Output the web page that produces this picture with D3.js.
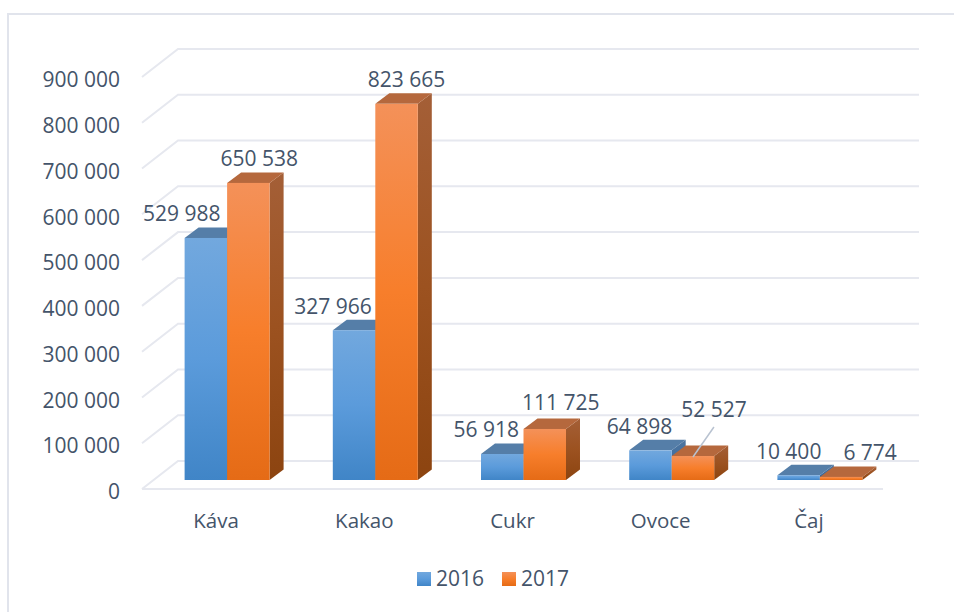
<!DOCTYPE html>
<html>
<head>
<meta charset="utf-8">
<style>
  html, body { margin: 0; background: #fff; }
  svg { display: block; }
  text { font-family: "Open Sans", sans-serif; fill: #44546a; }
  .axis .domain { display: none; }
  .axis text { font-family: "Open Sans", sans-serif; fill: #44546a; }
  .y-axis text { font-size: 21px; }
  .x-axis text { font-size: 20.5px; }
  .value { font-size: 21px; text-anchor: middle; }
  .legend text { font-size: 21px; }
</style>
</head>
<body>
<svg width="954" height="612"></svg>
<script src="https://d3js.org/d3.v7.min.js"></script>
<script>
  var categories = ["Káva", "Kakao", "Cukr", "Ovoce", "Čaj"];
  var years = ["2016", "2017"];
  var values2016 = [529988, 327966, 56918, 64898, 10400];
  var values2017 = [650538, 823665, 111725, 52527, 6774];
  var yTicks = [0, 100000, 200000, 300000, 400000, 500000, 600000, 700000, 800000, 900000];

  // hand placed data labels, moved from the top of the bar as in the original
  var nudge2016 = [[-24, 0], [-21, 0], [-16, 0], [-11, 0], [-10, 0]];
  var nudge2017 = [[11, 0], [10, 0], [16, -2], [21, -22], [29, 0]];

  var svg = d3.select("svg");
  var fmt = d3.formatLocale({ decimal: ",", thousands: " ", grouping: [3], currency: ["", ""] }).format(",d");

  var wall = { dx: 36, dy: -28 };   // chart floor depth
  var depth = { dx: 14, dy: -10.5 }; // bar depth

  var x = d3.scaleBand().domain(categories).range([142, 883]);
  var xBars = d3.scaleBand().domain(categories).range([153, 894]).paddingInner(0.4265).paddingOuter(0.2133);
  var xYear = d3.scaleBand().domain(years).range([0, xBars.bandwidth()]);
  var yFront = d3.scaleLinear().domain([0, 900000]).range([489, 77]);
  var yBar = d3.scaleLinear().domain([0, 900000]).range([480, 69]);

  // gradients
  var defs = svg.append("defs");
  function gradient(id, top, mid, bottom) {
    var g = defs.append("linearGradient").attr("id", id).attr("x1", 0).attr("y1", 0).attr("x2", 0).attr("y2", 1);
    g.append("stop").attr("offset", "0%").attr("stop-color", top);
    g.append("stop").attr("offset", "50%").attr("stop-color", mid);
    g.append("stop").attr("offset", "100%").attr("stop-color", bottom);
  }
  gradient("front2016", "#72a8de", "#5b9bdb", "#4085c7");
  gradient("front2017", "#f49159", "#f77e2b", "#e56b16");
  gradient("side2016", "#4f76a0", "#3f6d9f", "#2f5f91");
  gradient("side2017", "#a45f37", "#9c5220", "#8c4410");

  // chart frame
  svg.append("path")
    .attr("d", "M8,612V14H954")
    .attr("fill", "none")
    .attr("stroke", "#e1e4ec")
    .attr("stroke-width", 2);

  // walls
  var grid = svg.append("g").attr("fill", "none").attr("stroke", "#e6e8ef").attr("stroke-width", 2);
  grid.selectAll("polyline")
    .data(yTicks)
    .enter().append("polyline")
    .attr("points", function(d) {
      return [[142, yFront(d)], [142 + wall.dx, yFront(d) + wall.dy], [883 + wall.dx, yFront(d) + wall.dy]].join(" ");
    });
  grid.append("line")
    .attr("x1", 142).attr("x2", 883)
    .attr("y1", yFront(0)).attr("y2", yFront(0));

  // axes
  var yAxis = svg.append("g").attr("class", "axis y-axis")
    .attr("transform", "translate(120,3)")
    .call(d3.axisLeft(yFront).tickValues(yTicks).tickSize(0).tickPadding(0).tickFormat(fmt));
  var xAxis = svg.append("g").attr("class", "axis x-axis")
    .attr("transform", "translate(0,513)")
    .call(d3.axisBottom(x).tickSize(0).tickPadding(0));
  xAxis.selectAll("path,line").remove();
  yAxis.selectAll("line").remove();

  // bars, 2016 first so that 2017 sits in front of its side face
  var series = [
    { year: "2016", values: values2016, nudge: nudge2016, topFill: "#557ea8" },
    { year: "2017", values: values2017, nudge: nudge2017, topFill: "#b5683d" }
  ];

  series.forEach(function(s) {
    var g = svg.append("g").attr("class", "series-" + s.year);
    var bars = g.selectAll("g")
      .data(categories)
      .enter().append("g");

    function x0(d) { return xBars(d) + xYear(s.year); }
    function x1(d) { return x0(d) + xYear.bandwidth(); }
    function top(d, i) { return yBar(s.values[i]); }

    bars.append("polygon")
      .attr("fill", "url(#side" + s.year + ")")
      .attr("points", function(d, i) {
        return [[x1(d), top(d, i)], [x1(d) + depth.dx, top(d, i) + depth.dy],
          [x1(d) + depth.dx, yBar(0) + depth.dy], [x1(d), yBar(0)]].join(" ");
      });
    bars.append("polygon")
      .attr("fill", s.topFill)
      .attr("points", function(d, i) {
        return [[x0(d), top(d, i)], [x0(d) + depth.dx, top(d, i) + depth.dy],
          [x1(d) + depth.dx, top(d, i) + depth.dy], [x1(d), top(d, i)]].join(" ");
      });
    bars.append("rect")
      .attr("x", x0)
      .attr("y", top)
      .attr("width", xYear.bandwidth())
      .attr("height", function(d, i) { return yBar(0) - top(d, i); })
      .attr("fill", "url(#front" + s.year + ")");
  });

  // leader line of the Ovoce 2017 label
  var ovoceX = xBars("Ovoce") + xYear("2017") + xYear.bandwidth() / 2;
  var ovoceTop = yBar(values2017[3]);
  svg.append("line")
    .attr("x1", ovoceX + 21).attr("y1", ovoceTop - 29)
    .attr("x2", ovoceX).attr("y2", ovoceTop + 1)
    .attr("stroke", "#b8c2d0")
    .attr("stroke-width", 1.5);

  // data labels
  series.forEach(function(s) {
    svg.append("g").selectAll("text")
      .data(categories)
      .enter().append("text")
      .attr("class", "value")
      .attr("x", function(d, i) { return xBars(d) + xYear(s.year) + xYear.bandwidth() / 2 + s.nudge[i][0]; })
      .attr("y", function(d, i) { return yBar(s.values[i]) + depth.dy - 13.5 + s.nudge[i][1]; })
      .attr("dy", "0.35em")
      .text(function(d, i) { return fmt(s.values[i]); });
  });

  // legend
  var legendX = d3.scaleOrdinal().domain(years).range([417, 502]);
  var legend = svg.append("g").attr("class", "legend");
  var item = legend.selectAll("g")
    .data(series)
    .enter().append("g")
    .attr("transform", function(d) { return "translate(" + legendX(d.year) + ",572)"; });
  item.append("rect")
    .attr("width", 14).attr("height", 14)
    .attr("fill", function(d) { return "url(#front" + d.year + ")"; });
  item.append("text")
    .attr("x", 19).attr("y", 7).attr("dy", "0.35em")
    .text(function(d) { return d.year; });
</script>
</body>
</html>
